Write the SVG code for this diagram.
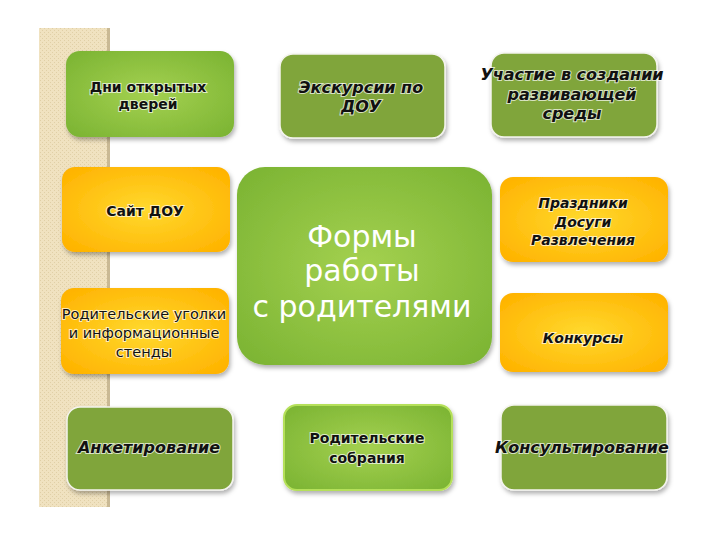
<svg xmlns="http://www.w3.org/2000/svg" width="720" height="540" viewBox="0 0 720 540">
<defs>
  <pattern id="tex" width="4" height="4" patternUnits="userSpaceOnUse">
    <rect width="4" height="4" fill="#f0e2c0"/>
    <rect x="0" y="0" width="1" height="1" fill="#e0cfa6"/>
    <rect x="2" y="2" width="1" height="1" fill="#e0cfa6"/>
  </pattern>
  <radialGradient id="gGreen" cx="50%" cy="50%" r="65%">
    <stop offset="0" stop-color="#a4d150"/>
    <stop offset="1" stop-color="#7db534"/>
  </radialGradient>
  <radialGradient id="gOrange" cx="50%" cy="50%" r="65%">
    <stop offset="0" stop-color="#ffd92e"/>
    <stop offset="1" stop-color="#ffb300"/>
  </radialGradient>
  <filter id="sh" x="-10%" y="-10%" width="125%" height="135%">
    <feDropShadow dx="1.5" dy="3" stdDeviation="2" flood-color="#000" flood-opacity="0.3"/>
  </filter>
  <style>
    .green{fill:url(#gGreen);filter:url(#sh)}
    .orange{fill:url(#gOrange);filter:url(#sh)}
    .olive{fill:#80a53a;stroke:#f4f4ee;stroke-width:1.5;filter:url(#sh)}
    .t{font-family:"DejaVu Sans","Liberation Sans",sans-serif;font-weight:bold;font-size:14px;fill:#111;text-anchor:middle;stroke:#ffffff;stroke-opacity:0.7;stroke-width:2;paint-order:stroke}
    .ti{font-style:italic}
    .tn{font-weight:normal;font-size:14.5px}
    .ob{font-size:16px}
    .big{font-family:"DejaVu Sans","Liberation Sans",sans-serif;font-size:30px;fill:#ffffff;text-anchor:middle}
  </style>
</defs>
<rect width="720" height="540" fill="#ffffff"/>
<g id="strip">
  <rect x="39" y="28" width="71" height="479" fill="url(#tex)"/>
  <rect x="107" y="28" width="3" height="479" fill="#c9b994"/>
</g>
<g id="connectors"/>
<g id="n1">
  <rect class="green" x="66" y="51" width="168" height="86" rx="14"/>
  <text class="t" x="148" y="92">Дни открытых</text>
  <text class="t" x="148" y="109">дверей</text>
</g>
<g id="n2">
  <rect class="olive" x="280" y="54" width="165" height="84" rx="13"/>
  <text class="t ti ob" x="361" y="93">Экскурсии по</text>
  <text class="t ti ob" x="361" y="112">ДОУ</text>
</g>
<g id="n3">
  <rect class="olive" x="491" y="53" width="166" height="84" rx="13"/>
  <text class="t ti ob" x="572" y="80">Участие в создании</text>
  <text class="t ti ob" x="572" y="100">развивающей</text>
  <text class="t ti ob" x="572" y="119">среды</text>
</g>
<g id="n4">
  <rect class="orange" x="62" y="167" width="168" height="85" rx="13"/>
  <text class="t" x="145" y="216">Сайт ДОУ</text>
</g>
<g id="center">
  <rect class="green" x="237" y="167" width="255" height="198" rx="28"/>
  <text class="big" x="362" y="247">Формы</text>
  <text class="big" x="362" y="281">работы</text>
  <text class="big" x="362" y="317">с родителями</text>
</g>
<g id="n5">
  <rect class="orange" x="500" y="177" width="168" height="85" rx="13"/>
  <text class="t ti" x="583" y="208">Праздники</text>
  <text class="t ti" x="583" y="227">Досуги</text>
  <text class="t ti" x="583" y="245">Развлечения</text>
</g>
<g id="n6">
  <rect class="orange" x="61" y="288" width="168" height="86" rx="13"/>
  <text class="t tn" x="144" y="319">Родительские уголки</text>
  <text class="t tn" x="144" y="338">и информационные</text>
  <text class="t tn" x="144" y="357">стенды</text>
</g>
<g id="n7">
  <rect class="orange" x="500" y="293" width="168" height="79" rx="13"/>
  <text class="t ti" x="583" y="343">Конкурсы</text>
</g>
<g id="n8">
  <rect class="olive" x="67" y="407" width="166" height="83" rx="13"/>
  <text class="t ti ob" x="149" y="453">Анкетирование</text>
</g>
<g id="n9">
  <rect class="green" x="284" y="405" width="168" height="85" rx="13" stroke="#b5e05a" stroke-width="2"/>
  <text class="t" x="367" y="443">Родительские</text>
  <text class="t" x="367" y="463">собрания</text>
</g>
<g id="n10">
  <rect class="olive" x="501" y="405" width="166" height="85" rx="13"/>
  <text class="t ti ob" x="582" y="453">Консультирование</text>
</g>
</svg>
